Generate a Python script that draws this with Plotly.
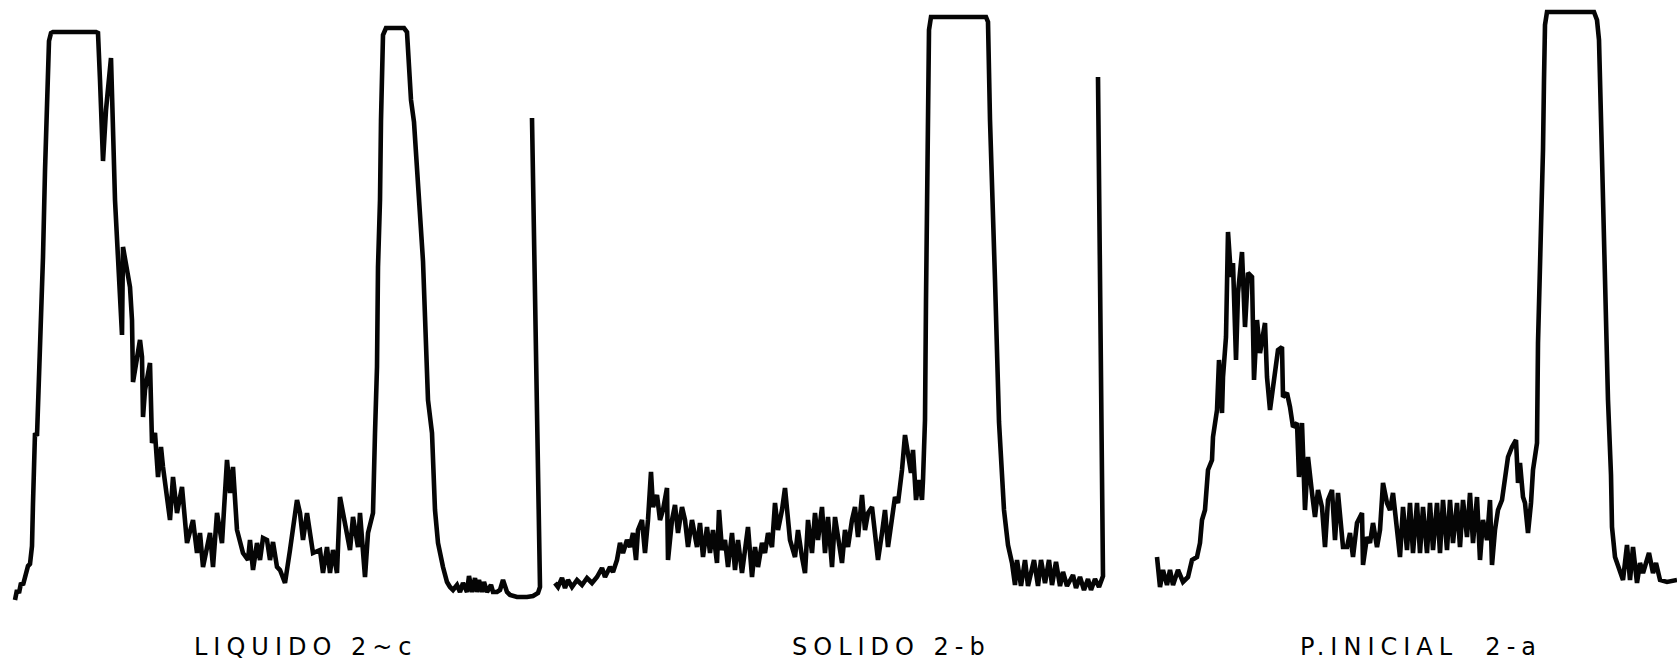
import plotly.graph_objects as go

# ---- LIQUIDO 2~c : pen position along chart / pen deflection ----
liq_pos = [0, 2, 4, 6, 8, 11, 13, 15, 17, 18, 19, 20, 22, 23, 26, 28, 30, 32, 33, 34, 36, 38,
           81, 83, 85, 88, 91, 96, 100, 104, 107, 108, 112, 115, 117, 118, 125, 127, 128, 130,
           135, 137, 140, 143, 146, 148, 155, 158, 162, 167, 172, 178, 182, 185, 188, 195, 198,
           202, 207, 212, 215, 218, 222, 225, 228, 233, 235, 238, 242, 245, 248, 252, 255, 258,
           262, 265, 270, 275, 282, 285, 288, 292, 298, 305, 308, 312, 315, 318, 322, 325, 332,
           335, 338, 343, 345, 350, 353, 358, 360, 362, 363, 365, 366, 367, 368, 371, 389, 392,
           394, 396, 399, 403, 408, 413, 417, 420, 423, 428, 432, 435, 438, 442, 445, 448, 452,
           454, 457, 460, 462, 464, 467, 469, 472, 476, 478, 482, 485, 488, 492, 495, 502, 512,
           518, 523, 525, 517]
liq_int = [0, 10, 7, 17, 15, 25, 34, 36, 54, 97, 151, 167, 164, 194, 258, 343, 429, 504, 541, 559, 567, 568,
           568, 567, 520, 439, 490, 542, 400, 310, 265, 353, 330, 313, 280, 218, 260, 243, 183, 210,
           237, 157, 167, 123, 153, 133, 80, 123, 87, 113, 57, 80, 47, 67, 33, 67, 33,
           87, 57, 140, 107, 133, 70, 60, 47, 40, 60, 30, 57, 40, 62, 60, 40, 58,
           33, 30, 17, 50, 100, 87, 60, 87, 47, 50, 27, 53, 27, 50, 27, 103, 67,
           50, 83, 53, 87, 23, 67, 87, 167, 233, 333, 400, 480, 540, 565, 572, 572, 568,
           530, 500, 478, 418, 339, 200, 167, 90, 57, 33, 18, 13, 10, 15, 8, 17, 8,
           24, 8, 22, 8, 20, 8, 18, 8, 15, 8, 8, 10, 20, 8, 5, 3, 3,
           4, 7, 13, 482]

# ---- SOLIDO 2-b ----
sol_pos = [0, 3, 7, 10, 13, 17, 22, 27, 32, 37, 42, 47, 50, 55, 58, 62, 65, 68, 72, 75, 78, 81,
           83, 87, 90, 93, 96, 98, 102, 105, 108, 112, 113, 117, 120, 123, 127, 130, 133, 137,
           142, 145, 148, 152, 155, 158, 162, 164, 167, 170, 173, 177, 180, 183, 187, 190, 193,
           197, 200, 203, 207, 210, 213, 217, 220, 223, 227, 230, 232, 235, 240, 243, 247, 250,
           253, 257, 260, 263, 267, 270, 273, 277, 280, 283, 287, 290, 293, 297, 300, 303, 307,
           310, 313, 317, 320, 323, 327, 330, 333, 337, 340, 343, 347, 350, 353, 356, 358, 361,
           364, 367, 368, 370, 371, 372, 373, 374, 376, 431, 433, 435, 440, 444, 449, 453, 457,
           460, 462, 466, 470, 473, 479, 483, 486, 490, 494, 497, 501, 505, 508, 512, 518, 521,
           525, 529, 533, 536, 540, 544, 548, 543]
sol_int = [17, 13, 22, 12, 20, 13, 20, 15, 22, 17, 23, 32, 23, 33, 28, 40, 57, 47, 60, 53, 67, 40,
           70, 80, 47, 80, 128, 93, 105, 80, 90, 112, 40, 80, 95, 67, 93, 80, 53, 80,
           53, 77, 43, 73, 47, 70, 37, 90, 50, 60, 33, 67, 30, 60, 27, 53, 73,
           23, 53, 33, 57, 47, 67, 53, 97, 70, 90, 112, 87, 60, 43, 70, 43, 27,
           80, 47, 87, 60, 93, 47, 83, 33, 83, 63, 37, 70, 53, 80, 93, 63, 105,
           70, 87, 93, 70, 40, 67, 90, 53, 83, 103, 97, 130, 165, 147, 127, 150, 100,
           120, 100, 120, 180, 300, 400, 480, 570, 583, 583, 578, 480, 320, 178, 90, 55, 37,
           15, 40, 14, 40, 14, 40, 14, 40, 17, 40, 15, 38, 14, 28, 14, 25, 12,
           23, 10, 21, 10, 21, 13, 24, 523]

# ---- P.INICIAL 2-a ----
ini_pos = [0, 3, 6, 10, 13, 16, 21, 26, 31, 35, 40, 43, 45, 48, 51, 55, 56, 60, 62, 65, 66, 69,
           71, 74, 76, 79, 81, 85, 88, 91, 95, 97, 100, 103, 108, 110, 113, 118, 121, 125, 126,
           130, 133, 136, 140, 142, 145, 148, 151, 155, 158, 161, 165, 168, 171, 175, 178, 181,
           186, 190, 193, 196, 200, 205, 206, 210, 213, 216, 220, 223, 226, 230, 233, 236, 240,
           243, 246, 250, 253, 256, 260, 263, 266, 270, 273, 276, 280, 283, 286, 290, 293, 296,
           300, 303, 306, 310, 313, 316, 320, 323, 326, 330, 333, 335, 338, 341, 345, 348, 351,
           355, 359, 361, 363, 366, 368, 371, 374, 376, 380, 381, 383, 385, 386, 387, 388, 390,
           437, 440, 442, 445, 449, 451, 454, 455, 458, 463, 466, 470, 473, 476, 480, 483, 486,
           492, 496, 499, 503, 510, 520]
ini_int = [43, 13, 30, 15, 30, 15, 30, 18, 23, 40, 43, 57, 80, 90, 130, 140, 163, 190, 240, 187, 223, 263,
           368, 323, 337, 240, 307, 348, 273, 327, 323, 220, 280, 247, 277, 223, 190, 230, 250, 253, 203,
           207, 193, 173, 177, 123, 177, 90, 143, 107, 83, 110, 93, 53, 100, 110, 60, 107,
           53, 53, 67, 43, 77, 87, 35, 63, 57, 77, 53, 70, 117, 97, 90, 107, 73,
           43, 93, 50, 97, 47, 97, 47, 93, 47, 97, 50, 97, 47, 100, 50, 100, 57,
           97, 53, 100, 63, 107, 57, 103, 40, 80, 60, 100, 35, 70, 90, 100, 123, 143,
           153, 160, 117, 137, 103, 97, 67, 97, 130, 157, 257, 323, 390, 450, 520, 575, 588,
           588, 580, 560, 442, 271, 200, 125, 73, 43, 30, 20, 55, 20, 53, 17, 37, 27,
           47, 27, 37, 20, 18, 20]

labels = ["LIQUIDO 2~c", "SOLIDO 2-b", "P.INICIAL  2-a"]
label_x = [0.1825, 0.5319, 0.8474]

fig = go.Figure()
line = dict(color="#050505", width=4.6)
fig.add_trace(go.Scatter(x=liq_pos, y=liq_int, mode="lines", line=line, xaxis="x", yaxis="y",
                         name=labels[0], hoverinfo="skip"))
fig.add_trace(go.Scatter(x=sol_pos, y=sol_int, mode="lines", line=line, xaxis="x2", yaxis="y",
                         name=labels[1], hoverinfo="skip"))
fig.add_trace(go.Scatter(x=ini_pos, y=ini_int, mode="lines", line=line, xaxis="x3", yaxis="y",
                         name=labels[2], hoverinfo="skip"))

hidden = dict(visible=False, showgrid=False, zeroline=False, fixedrange=True)
fig.update_layout(
    width=1677, height=661,
    margin=dict(l=0, r=0, t=0, b=0),
    paper_bgcolor="white", plot_bgcolor="white",
    showlegend=False,
    xaxis=dict(range=[-15, 1662], domain=[0, 1], **hidden),
    xaxis2=dict(range=[-555, 1122], domain=[0, 1], overlaying="x", **hidden),
    xaxis3=dict(range=[-1157, 520], domain=[0, 1], overlaying="x", **hidden),
    yaxis=dict(range=[-61, 600], domain=[0, 1], **hidden),
)
for txt, lx in zip(labels, label_x):
    fig.add_annotation(
        x=lx, y=0.021, xref="paper", yref="paper", xanchor="center", yanchor="middle",
        text='<span style="letter-spacing:6px">' + txt + '</span>',
        showarrow=False,
        font=dict(family="DejaVu Sans", size=24, color="#000000"),
    )

fig.write_html("out.html")
